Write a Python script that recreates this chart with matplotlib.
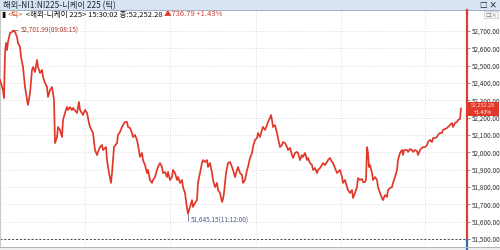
import matplotlib.pyplot as plt
from matplotlib.patches import Rectangle
from matplotlib.lines import Line2D
from matplotlib.ticker import FuncFormatter

plt.rcParams['font.family'] = ['Noto Sans CJK KR', 'DejaVu Sans']

# --- texts ---
title = "해외-NI1:NI225-니케이 225 (틱)"
info_mark = "▮ "
info_kind = "<틱>"
info_main = " <해외-니케이 225> 15:30:02 종:52,252.28 "
info_chg = "▲736.79 +1.43%"
last_price = 52252.28
last_pct = "+1.43%"
high_val, high_time = 52701.99, "09:08:15"
low_val, low_time = 51645.15, "11:12:00"
ytick_vals = list(range(51500, 52701, 100))

# --- tick series (tick sequence number, price) ---
tick_idx = [0, 3, 4, 5, 6, 7, 8, 10, 12, 13, 15, 17, 18, 20, 21, 23, 25, 27, 28, 30,
            32, 33, 35, 37, 38, 40, 42, 43, 45, 47, 48, 50, 52, 53, 54, 55, 57, 58, 60, 62,
            63, 65, 67, 68, 70, 72, 73, 77, 79, 80, 83, 85, 87, 89, 90, 93, 95, 97, 98, 100,
            102, 103, 106, 107, 109, 111, 112, 114, 117, 118, 120, 122, 125, 127, 128, 130, 132, 133, 135, 137,
            138, 140, 142, 143, 145, 147, 148, 150, 152, 153, 155, 157, 158, 160, 162, 163, 165, 167, 168, 170,
            172, 173, 175, 177, 178, 180, 182, 183, 185, 187, 188, 190, 192, 193, 195, 197, 198, 200, 202, 203,
            205, 207, 208, 210, 212, 213, 215, 217, 218, 220, 222, 223, 224, 226, 228, 230, 232, 233, 235, 237,
            238, 240, 242, 243, 245, 247, 248, 250, 252, 253, 255, 257, 258, 260, 262, 263, 265, 267, 268, 270,
            271, 272, 273, 275, 277, 278, 280, 282, 283, 285, 287, 288, 290, 292, 293, 295, 297, 298, 300, 302,
            303, 305, 307, 308, 310, 312, 313, 315, 317, 318, 320, 322, 323, 325, 327, 328, 330, 332, 333, 335,
            337, 338, 340, 342, 343, 345, 347, 348, 350, 352, 353, 355, 357, 358, 360, 362, 363, 365, 366, 367,
            368, 369, 370, 372, 373, 375, 377, 378, 380, 382, 383, 385, 387, 388, 390, 392, 393, 395, 397, 398,
            400, 402, 403, 404, 407, 408, 410, 412, 413, 415, 417, 418, 420, 422, 423, 425, 427, 428, 430, 432,
            433, 435, 437, 438, 440, 442, 443, 445, 447, 448, 450, 452, 453, 455, 457, 458, 460, 461]
price = [52417, 52359, 52313, 52573, 52631, 52590, 52637, 52688, 52694, 52701.99, 52695, 52665, 52631, 52608, 52550, 52492, 52377, 52302, 52273, 52342,
         52475, 52492, 52463, 52533, 52492, 52458, 52475, 52435, 52400, 52377, 52319, 52359, 52377, 52342, 52302, 52053, 52088, 52146, 52129, 52088,
         52186, 52227, 52261, 52244, 52261, 52244, 52256, 52227, 52290, 52244, 52215, 52244, 52227, 52169, 52146, 52111, 52013, 51984, 52002, 52030,
         52042, 52013, 52030, 51955, 51880, 51823, 51880, 52030, 52053, 52100, 52117, 52146, 52175, 52175, 52146, 52140, 52111, 52088, 52100, 52071,
         52042, 51973, 51996, 51955, 51926, 51880, 51898, 51840, 51823, 51840, 51857, 51898, 51915, 51938, 51915, 51880, 51886, 51857, 51886, 51840,
         51857, 51898, 51880, 51840, 51857, 51823, 51840, 51799, 51765, 51678, 51645.15, 51684, 51724, 51684, 51707, 51724, 51823, 51880, 51938, 51955,
         51944, 51955, 51915, 51938, 51880, 51840, 51799, 51823, 51782, 51765, 51713, 51730, 51765, 51880, 51938, 51944, 51915, 51898, 51857, 51898,
         51915, 51880, 51869, 51823, 51840, 51898, 51915, 51967, 51996, 52030, 52071, 52082, 52111, 52088, 52129, 52146, 52129, 52157, 52175, 52198,
         52215, 52186, 52146, 52157, 52111, 52082, 52030, 52042, 52059, 52053, 52030, 52013, 52025, 51984, 51967, 51996, 52002, 51996, 51955, 51984,
         51973, 51996, 51955, 51967, 51938, 51926, 51898, 51909, 51880, 51898, 51909, 51926, 51938, 51926, 51944, 51955, 51967, 51944, 51938, 51909,
         51880, 51886, 51898, 51857, 51823, 51840, 51799, 51782, 51765, 51782, 51736, 51765, 51799, 51851, 51840, 51846, 51828, 51828, 51840, 52030,
         51996, 51915, 51926, 51880, 51840, 51857, 51840, 51799, 51765, 51736, 51724, 51753, 51742, 51782, 51794, 51799, 51823, 51857, 51898, 51955,
         51996, 52013, 51984, 52013, 52013, 52002, 52019, 52013, 52002, 52013, 52007, 51984, 52013, 52025, 52030, 52030, 52042, 52059, 52071, 52059,
         52082, 52082, 52088, 52100, 52111, 52111, 52129, 52134, 52140, 52146, 52157, 52169, 52146, 52169, 52175, 52186, 52192, 52252.28]

W, H = 500, 250
def fx(px):
    return px / W
def fy(py):
    return 1 - py / H

fig = plt.figure(figsize=(5, 2.5), dpi=100)
fig.patch.set_facecolor('white')

ax = fig.add_axes([0, fy(246), fx(467), (246 - 10) / H])
ax.plot(tick_idx, price, color='#e0392b', lw=1.25, zorder=3)
ax.set_xlim(0, 467)
ax.set_ylim(51459, 52821)

ax.set_yticks(ytick_vals)
ax.yaxis.set_major_formatter(FuncFormatter(lambda v, p: f"{v:,.2f}"))
ax.yaxis.tick_right()
ax.tick_params(axis='y', length=2.5, width=0.5, color='#666', labelsize=4.6,
               labelcolor='#333', pad=1)
ax.set_xticks([85, 170, 256, 341, 425])
ax.tick_params(axis='x', length=0, labelbottom=False)
ax.grid(True, color='#d4d4d4', ls=(0, (1, 2)), lw=0.6)
ax.axhline(51500, color='#444', ls=(0, (2, 2)), lw=0.7, zorder=2)

for s in ['top', 'bottom']:
    ax.spines[s].set_visible(False)
ax.spines['left'].set_color('#c8c8c8')
ax.spines['left'].set_linewidth(0.8)
ax.spines['right'].set_visible(False)

# high / low markers
hi_i = price.index(high_val)
lo_i = price.index(low_val)
ax.annotate(f"{high_val:,.2f}({high_time})", xy=(tick_idx[hi_i], high_val),
            xytext=(8, 0), textcoords='offset pixels', va='center', ha='left',
            fontsize=4.6, color='#a83a2a',
            arrowprops=dict(arrowstyle='-', color='#a83a2a', lw=0.5, shrinkA=0, shrinkB=0))
ax.annotate(f"{low_val:,.2f}({low_time})", xy=(tick_idx[lo_i], low_val),
            xytext=(3, -7), textcoords='offset pixels', va='center', ha='left',
            fontsize=4.6, color='#4a5a86',
            arrowprops=dict(arrowstyle='-', color='#4a5a86', lw=0.5, shrinkA=0, shrinkB=0,
                            connectionstyle='angle,angleA=0,angleB=90,rad=0'))

# window title bar
fig.patches.append(Rectangle((0, fy(10)), 1, 10 / H, transform=fig.transFigure,
                             facecolor='#d8e4f0', edgecolor='none', zorder=0))
fig.lines.append(Line2D([0, 1], [fy(10), fy(10)], transform=fig.transFigure,
                        color='#9db0c4', lw=0.7))
fig.text(fx(3), fy(5.2), title, fontsize=6.0, color='#1e2a3c', va='center', ha='left')
fig.text(fx(497), fy(5), "□ ×", fontsize=5.5, color='#1e2a3c', va='center', ha='right',
         fontweight='bold')
fig.text(fx(497), fy(14.5), "□|×", fontsize=3.8, color='#777', va='center', ha='right',
         bbox=dict(boxstyle='square,pad=0.15', fc='#f4f4f4', ec='#bbbbbb', lw=0.4))

# info line
fs_info = 5.5
t1 = fig.text(fx(2), fy(14.5), info_mark, fontsize=fs_info, color='#111', va='center', ha='left')
t2 = ax.annotate(info_kind, xy=(1, 0.5), xycoords=t1, va='center', ha='left',
                 fontsize=fs_info, color='#d0552a')
t3 = ax.annotate(info_main, xy=(1, 0.5), xycoords=t2, va='center', ha='left',
                 fontsize=fs_info, color='#111')
ax.annotate(info_chg, xy=(1, 0.5), xycoords=t3, va='center', ha='left',
            fontsize=fs_info, color='#d8402f')

# right edge line, price box, footer
fig.lines.append(Line2D([fx(467), fx(467)], [fy(10), fy(240)], transform=fig.transFigure,
                        color='#d8402f', lw=1.6))
fig.lines.append(Line2D([fx(467), fx(467)], [fy(240), fy(250)], transform=fig.transFigure,
                        color='#3a6ab0', lw=1.6))
fig.patches.append(Rectangle((fx(468), fy(116)), fx(31), 14 / H, transform=fig.transFigure,
                             facecolor='#e0392b', edgecolor='none', zorder=5))
fig.text(fx(483), fy(106), f"{last_price:,.2f}", fontsize=3.9, color='#ffd8d0',
         va='center', ha='center', zorder=6)
fig.text(fx(483), fy(112), last_pct, fontsize=3.9, color='white',
         va='center', ha='center', zorder=6)
fig.patches.append(Rectangle((0, 0), 1, 3 / H, transform=fig.transFigure,
                             facecolor='#eeeeee', edgecolor='none', zorder=0))
fig.lines.append(Line2D([0, 1], [fy(247), fy(247)], transform=fig.transFigure,
                        color='#b4b4b4', lw=0.7))

fig.savefig("out.png", dpi=100)
